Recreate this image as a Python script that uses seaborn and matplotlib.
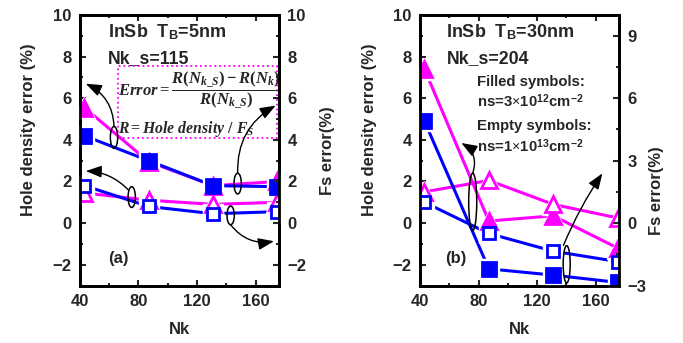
import seaborn as sns
import matplotlib.pyplot as plt
from matplotlib.patches import Ellipse, Rectangle
from matplotlib.ticker import MultipleLocator

sns.set_theme(style="ticks")
plt.rcParams['font.family'] = ['Liberation Sans', 'DejaVu Sans']
plt.rcParams['font.weight'] = 'bold'
plt.rcParams['mathtext.fontset'] = 'custom'
plt.rcParams['mathtext.rm'] = 'Liberation Serif:bold'
plt.rcParams['mathtext.it'] = 'Liberation Serif:bold:italic'
plt.rcParams['mathtext.sf'] = 'Liberation Sans:bold'

# data
nk = [43, 87, 131, 175]

# (a) TB = 5nm
a_filled_tri = [5.55, 2.95, 1.8, 2.0]
a_filled_sq = [4.2, 3.0, 1.8, 1.75]
a_empty_tri = [1.45, 1.1, 0.9, 1.0]
a_empty_sq = [1.8, 0.8, 0.45, 0.55]

# (b) TB = 30nm
b_filled_tri = [7.4, 0.1, 0.35, -1.2]
b_filled_sq = [4.9, -2.2, -2.5, -2.85]
b_empty_tri = [1.5, 2.05, 0.9, 0.25]
b_empty_sq = [1.0, -0.5, -1.35, -1.85]

MAG = '#ff00ff'
BLUE = '#0000ff'

fig = plt.figure(figsize=(6.83, 3.43), dpi=100)
axa = fig.add_axes([0.117, 0.1676, 0.2914, 0.7886])
axb = fig.add_axes([0.615, 0.1676, 0.2914, 0.7886])


def draw_series(ax, vals, color, marker, filled, ms):
    sns.lineplot(x=nk, y=vals, ax=ax, color=color, lw=2.2, zorder=2)
    # white halo so the line stops short of the symbol
    ax.plot(nk, vals, ls='none', marker=marker, ms=ms + 5, mfc='white',
            mec='white', zorder=3, clip_on=False)
    ax.plot(nk, vals, ls='none', marker=marker, ms=ms,
            mfc=color if filled else 'white', mec=color, mew=2,
            zorder=4, clip_on=True)


def style_axes(ax, right_ticks, right_minor, rlab_xy):
    ax.set_xlim(40, 176)
    ax.set_ylim(-3, 10)
    ax.xaxis.set_major_locator(MultipleLocator(40))
    ax.xaxis.set_minor_locator(MultipleLocator(20))
    ax.set_yticks(range(-2, 11, 2))
    ax.yaxis.set_minor_locator(MultipleLocator(1))
    ax.tick_params(which='both', direction='in', top=True, right=False,
                   width=1.5, labelsize=12, pad=6)
    ax.tick_params(which='major', length=4)
    ax.tick_params(which='minor', length=2.5)
    for lab in ax.get_xticklabels() + ax.get_yticklabels():
        lab.set_fontweight('bold')
    for sp in ax.spines.values():
        sp.set_linewidth(2)
        sp.set_color('black')
    ax.set_xlabel('Nk', fontsize=12, fontweight='bold', va='center')
    ax.xaxis.set_label_coords(0.5, -0.163)
    ax.set_ylabel('Hole density error (%)', fontsize=12, fontweight='bold',
                  va='center')
    ax.yaxis.set_label_coords(-0.256, 0.575)

    tw = ax.twinx()
    tw.set_ylim(-3, 10)
    tw.set_yticks(right_ticks)
    tw.yaxis.set_minor_locator(MultipleLocator(right_minor))
    tw.tick_params(which='both', direction='in', width=1.5,
                   labelsize=12, pad=6)
    tw.tick_params(which='major', length=4)
    tw.tick_params(which='minor', length=2.5)
    for lab in tw.get_yticklabels():
        lab.set_fontweight('bold')
    for sp in tw.spines.values():
        sp.set_linewidth(2)
        sp.set_color('black')
    tw.set_ylabel('Fs error(%)', fontsize=12, fontweight='bold', va='center')
    tw.yaxis.set_label_coords(*rlab_xy)
    return tw


def ring(ax, x, y, w, h):
    ax.add_patch(Ellipse((x, y), w, h, fill=False, ec='black', lw=1.1, zorder=5))


def curved_arrow(ax, tail, head, rad):
    ax.annotate('', xy=head, xytext=tail,
                arrowprops=dict(arrowstyle='-|>,head_length=0.8,head_width=0.3',
                                connectionstyle=f'arc3,rad={rad}',
                                color='black', lw=1, shrinkA=0, shrinkB=0,
                                mutation_scale=12),
                zorder=6)


# ---- panel (a)
draw_series(axa, a_filled_tri, MAG, '^', True, 11.5)
draw_series(axa, a_empty_tri, MAG, '^', False, 11.5)
draw_series(axa, a_filled_sq, BLUE, 's', True, 9.5)
draw_series(axa, a_empty_sq, BLUE, 's', False, 9)
style_axes(axa, range(-2, 11, 2), 1, (1.246, 0.5))

axa.text(59, 9.2, r'InSb  T$_{\mathsf{B}}$=5nm', fontsize=13,
         fontweight='bold', va='center')
axa.text(59, 7.9, 'Nk_s=115', fontsize=12.8, fontweight='bold', va='center')
axa.text(59, -1.7, '(a)', fontsize=12, fontweight='bold', va='center')

axa.add_patch(Rectangle((66, 4.07), 108.5, 3.46, fill=False, ec=MAG,
                        ls=':', lw=1.3, zorder=5))
axa.text(66.3, 6.4, r'$Error=\dfrac{R(N_{k\_S})-R(N_k)}{R(N_{k\_S})}$',
         fontsize=12, va='center', ha='left', clip_on=True, zorder=5)
axa.text(66.3, 4.5, r'$R=Hole\ density\ /\ F_S$',
         fontsize=11.3, va='center', ha='left', zorder=5)

ring(axa, 63.3, 4.12, 5, 1.05)
ring(axa, 75.4, 1.25, 5, 1.0)
ring(axa, 147.8, 1.9, 5, 1.0)
ring(axa, 143, 0.37, 5, 0.9)
curved_arrow(axa, (63.3, 4.65), (44, 6.7), 0.3)
curved_arrow(axa, (73, 1.6), (44, 2.5), 0.2)
curved_arrow(axa, (147.8, 2.4), (173.8, 5.65), -0.3)
curved_arrow(axa, (143, -0.08), (172.6, -0.87), 0.3)

# ---- panel (b)
draw_series(axb, b_filled_tri, MAG, '^', True, 11.5)
draw_series(axb, b_empty_tri, MAG, '^', False, 11.5)
draw_series(axb, b_filled_sq, BLUE, 's', True, 9.5)
draw_series(axb, b_empty_sq, BLUE, 's', False, 9)
twb = style_axes(axb, [-3, 0, 3, 6, 9], 1.5, (1.19, 0.35))

axb.text(58, 9.2, r'InSb  T$_{\mathsf{B}}$=30nm', fontsize=13,
         fontweight='bold', va='center')
axb.text(58, 7.9, 'Nk_s=204', fontsize=12.8, fontweight='bold', va='center')
axb.text(57, -1.7, '(b)', fontsize=12, fontweight='bold', va='center')
axb.text(79, 6.76, 'Filled symbols:', fontsize=10.7, fontweight='bold', va='center')
axb.text(79, 5.85, r'ns=3$\times$10$^{\mathsf{12}}$cm$^{\mathsf{-2}}$',
         fontsize=10.7, fontweight='bold', va='center')
axb.text(79, 4.69, 'Empty symbols:', fontsize=10.7, fontweight='bold', va='center')
axb.text(79, 3.7, r'ns=1$\times$10$^{\mathsf{13}}$cm$^{\mathsf{-2}}$',
         fontsize=10.7, fontweight='bold', va='center')

ring(axb, 76, 1.02, 5.5, 2.76)
ring(axb, 140.2, -1.98, 4.8, 1.79)
curved_arrow(axb, (76, 2.4), (68.2, 3.85), 0.4)
curved_arrow(axb, (138, -1.07), (164.6, 2.39), -0.05)

plt.savefig('out.png', dpi=100)
